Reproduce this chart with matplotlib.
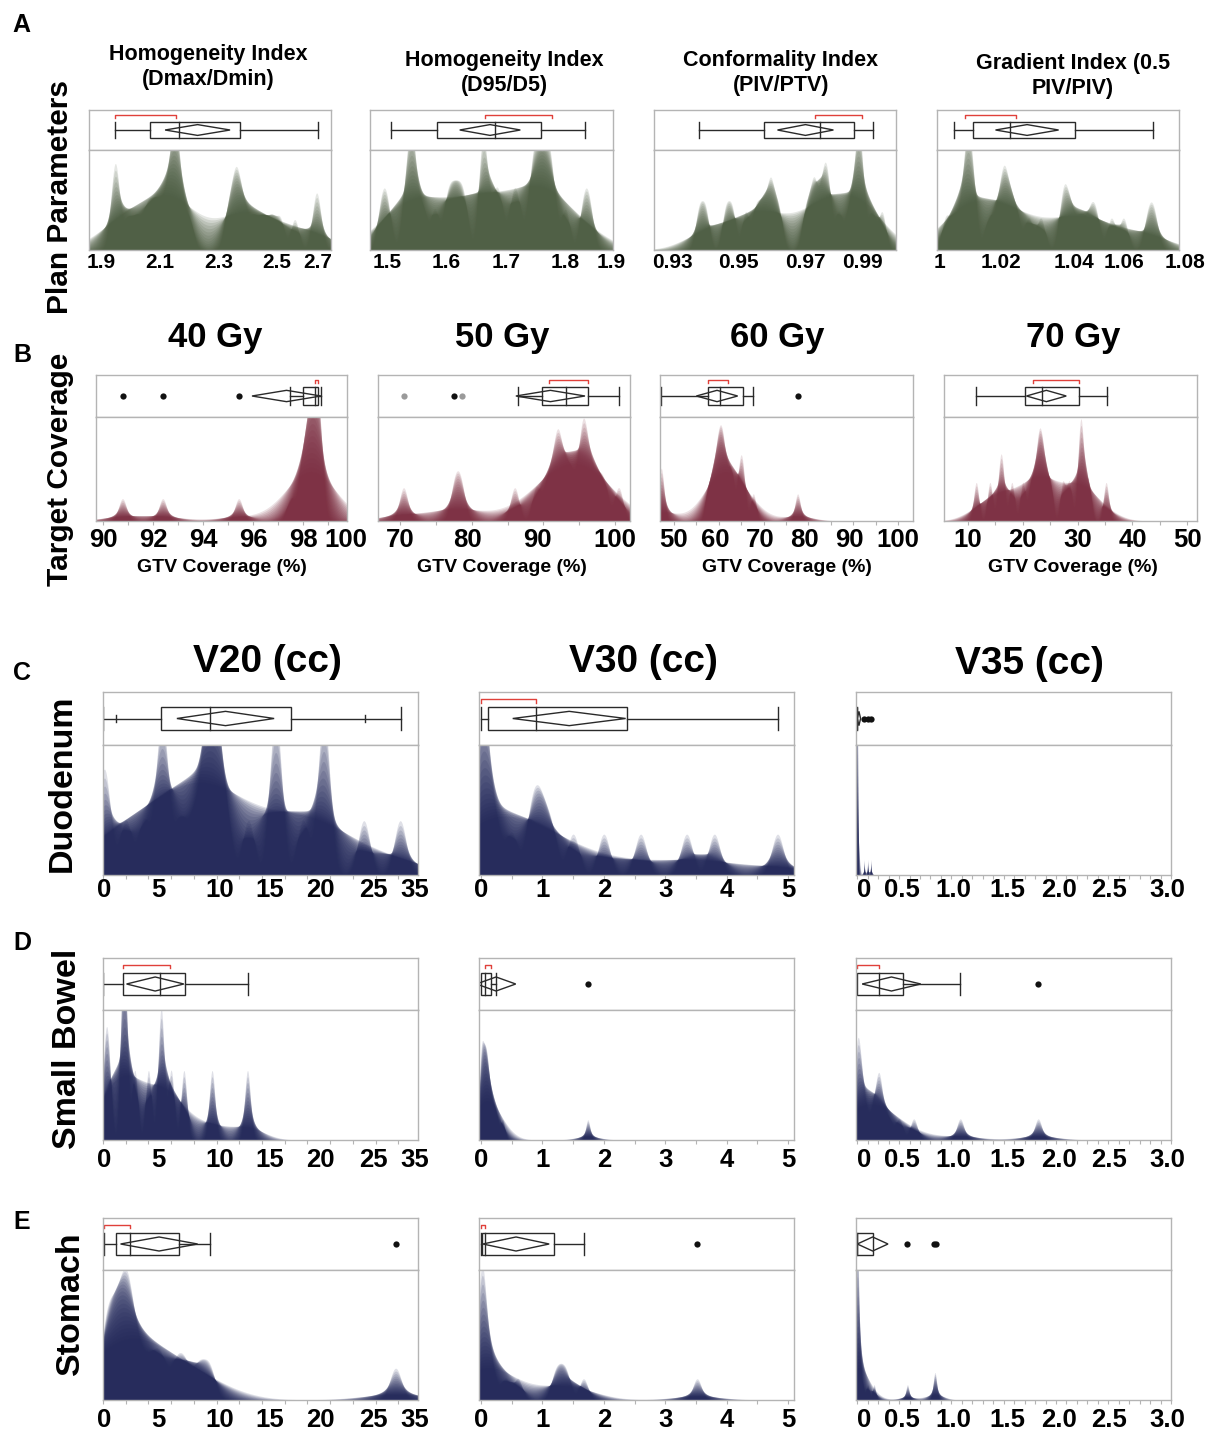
import numpy as np
import matplotlib
matplotlib.use("Agg")
import matplotlib.pyplot as plt
from matplotlib.patches import Rectangle, Polygon
from matplotlib.transforms import blended_transform_factory
from matplotlib.ticker import MultipleLocator

plt.rcParams['font.family'] = ['Liberation Sans', 'DejaVu Sans']
plt.rcParams['font.weight'] = 'bold'

# ---------------- DATA ----------------
# Panel A : plan parameters
A1_obs = [1.94, 1.95, 1.95, 1.99, 2.02, 2.05, 2.07, 2.09, 2.11, 2.13, 2.14, 2.15, 2.15, 2.16, 2.17, 2.20,
          2.33, 2.35, 2.36, 2.37, 2.39, 2.42, 2.45, 2.48, 2.51, 2.56, 2.63, 2.64]
A1_box = [1.946, 2.066, 2.165, 2.373, 2.640]
A1_mean = [2.228, 0.111]
A1_half = [1.946, 2.155]
A1_labels = ['1.9', '2.1', '2.3', '2.5', '2.7']
A1_label_at = [1.9, 2.1, 2.3, 2.5, 2.64]
A1_xlim = [1.857, 2.684]

A2_obs = [1.49, 1.50, 1.53, 1.54, 1.54, 1.545, 1.56, 1.58, 1.60, 1.61, 1.62, 1.63, 1.66, 1.66, 1.665,
          1.68, 1.69, 1.71, 1.72, 1.74, 1.75, 1.75, 1.76, 1.77, 1.77, 1.78, 1.80, 1.83, 1.84]
A2_box = [1.507, 1.584, 1.682, 1.759, 1.833]
A2_mean = [1.673, 0.051]
A2_half = [1.665, 1.777]
A2_labels = ['1.5', '1.6', '1.7', '1.8', '1.9']
A2_label_at = [1.5, 1.6, 1.7, 1.8, 1.877]
A2_xlim = [1.471, 1.880]

A3_obs = [0.938, 0.940, 0.946, 0.948, 0.952, 0.955, 0.957, 0.959, 0.960, 0.962, 0.970, 0.972, 0.973,
          0.975, 0.976, 0.977, 0.980, 0.983, 0.985, 0.986, 0.986, 0.987, 0.990, 0.993]
A3_box = [0.938, 0.9575, 0.9745, 0.9845, 0.9902]
A3_mean = [0.970, 0.0084]
A3_half = [0.9730, 0.9869]
A3_labels = ['0.93', '0.95', '0.97', '0.99']
A3_label_at = [0.93, 0.95, 0.97, 0.9872]
A3_xlim = [0.9245, 0.9972]

A4_obs = [1.002, 1.005, 1.008, 1.009, 1.009, 1.010, 1.011, 1.016, 1.019, 1.021, 1.021, 1.023, 1.025,
          1.029, 1.033, 1.040, 1.041, 1.043, 1.046, 1.049, 1.051, 1.056, 1.060, 1.068, 1.070]
A4_box = [1.0046, 1.0108, 1.0230, 1.0441, 1.0695]
A4_mean = [1.0285, 0.0103]
A4_half = [1.0082, 1.0248]
A4_labels = ['1', '1.02', '1.04', '1.06', '1.08']
A4_label_at = [1.0, 1.02, 1.0438, 1.06, 1.08]
A4_xlim = [0.9991, 1.0781]

A_titles = ['Homogeneity Index\n(Dmax/Dmin)', 'Homogeneity Index\n(D95/D5)',
            'Conformality Index\n(PIV/PTV)', 'Gradient Index (0.5\nPIV/PIV)']

# Panel B : target coverage (GTV coverage %)
B1_obs = [90.78, 92.39, 95.43, 97.5, 97.9, 98.0, 98.1, 98.2, 98.3, 98.35, 98.4, 98.45, 98.5, 98.55,
          98.6, 98.65, 98.7]
B1_box = [97.5, 98.02, 98.48, 98.61, 98.72]
B1_mean = [97.34, 1.38]
B1_half = [98.48, 98.61]
B1_out = [90.78, 92.39, 95.43]
B1_out_gray = []
B1_labels = ['90', '92', '94', '96', '98', '100']
B1_label_at = [90, 92, 94, 96, 98.0, 99.7]
B1_xlim = [89.72, 99.76]

B2_obs = [70.5, 77.6, 78.5, 86.0, 89.0, 90.5, 91.5, 92.0, 92.3, 93.2, 94.0, 95.2, 95.5,
          95.8, 96.5, 97.5, 98.5, 100.5]
B2_box = [86.5, 89.85, 93.2, 96.2, 100.5]
B2_mean = [90.98, 4.82]
B2_half = [90.84, 96.18]
B2_out = [77.6]
B2_out_gray = [70.56, 78.7]
B2_labels = ['70', '80', '90', '100']
B2_label_at = [70, 79.35, 89.2, 100]
B2_xlim = [66.93, 102.08]

B3_obs = [47.0, 47.3, 57.5, 58.5, 59.3, 59.8, 60.2, 60.6, 61.0, 61.5, 62.5, 63.0, 64.5, 65.0, 65.5,
          67.7, 77.6]
B3_box = [47.0, 57.7, 60.2, 65.3, 67.7]
B3_mean = [59.6, 4.61]
B3_half = [57.7, 62.1]
B3_out = [77.7]
B3_out_gray = []
B3_labels = ['50', '60', '70', '80', '90', '100']
B3_label_at = [50, 59.15, 69.2, 79.2, 89.06, 100]
B3_xlim = [46.875, 103.35]

B4_obs = [11.5, 14.0, 15.8, 16.3, 18.0, 20.0, 21.5, 22.5, 23.0, 23.4, 24.0, 25.0, 27.3, 28.5, 30.3,
          30.6, 30.9, 32.0, 35.2]
B4_box = [11.53, 20.35, 23.5, 30.2, 35.3]
B4_mean = [24.3, 3.63]
B4_half = [21.9, 30.2]
B4_out = []
B4_out_gray = []
B4_labels = ['10', '20', '30', '40', '50']
B4_label_at = [10, 20, 30, 40, 50]
B4_xlim = [5.62, 51.79]

B_titles = ['40 Gy', '50 Gy', '60 Gy', '70 Gy']
B_xlabel = 'GTV Coverage (%)'

# Panels C-E : organ dose volumes (cc)
C_titles = ['V20 (cc)', 'V30 (cc)', 'V35 (cc)']
V20_labels = ['0', '5', '10', '15', '20', '25', '35']
V20_label_at = [0.1, 6.08, 12.8, 18.4, 23.9, 29.8, 34.35]
V20_xlim = [0, 34.66]
V30_labels = ['0', '1', '2', '3', '4', '5']
V30_label_at = [0, 1, 2, 3, 4, 5]
V30_xlim = [-0.033, 5.098]
V35_labels = ['0', '0.5', '1.0', '1.5', '2.0', '2.5', '3.0']
V35_label_at = [0.066, 0.43, 0.92, 1.44, 1.93, 2.41, 2.96]
V35_xlim = [-0.012, 3]

C1_obs = [0.0, 0.3, 2.5, 4.5, 6.3, 6.5, 6.7, 8.5, 10.0, 11.2, 11.6, 11.9, 12.2, 12.5, 13.5, 16.0,
          18.9, 19.0, 19.1, 22.0, 24.2, 24.3, 24.4, 28.7, 32.7]
C1_box = [0.0, 6.43, 11.74, 20.65, 32.74]
C1_qticks = [1.43, 28.78]
C1_mean = [13.48, 5.35]
C1_half = None
C1_out = []

C2_obs = [0.0, 0.0, 0.0, 0.02, 0.1, 0.25, 0.5, 0.8, 0.9, 1.0, 1.15, 1.5, 2.0, 2.6, 3.35, 3.8, 4.83]
C2_box = [0.0, 0.116, 0.90, 2.38, 4.83]
C2_mean = [1.436, 0.92]
C2_half = [0.0, 0.90]
C2_out = []

C3_obs = [0.0] * 16 + [0.066, 0.10, 0.13]
C3_box = [0.0, 0.0, 0.0, 0.0, 0.0]
C3_mean = [0.016, 0.016]
C3_half = None
C3_out = [0.066, 0.10, 0.13]

D1_obs = [0.2, 0.6, 2.2, 2.3, 2.4, 3.5, 5.0, 6.3, 6.5, 7.5, 8.9, 12.0, 15.9]
D1_box = [0.0, 2.17, 6.30, 9.0, 15.96]
D1_mean = [5.74, 3.15]
D1_half = [2.17, 7.39]
D1_out = []

D2_obs = [0.0, 0.0, 0.0, 0.02, 0.05, 0.07, 0.08, 0.1, 0.12, 0.15, 0.2, 0.25, 0.35, 1.74]
D2_box = [0.0, 0.0, 0.07, 0.168, 0.245]
D2_mean = [0.245, 0.32]
D2_half = [0.07, 0.16]
D2_out = [1.74]

D3_obs = [0.0, 0.0, 0.0, 0.01, 0.03, 0.08, 0.15, 0.2, 0.21, 0.22, 0.3, 0.4, 0.54, 0.985, 1.73]
D3_box = [0.0, 0.0, 0.21, 0.437, 0.985]
D3_mean = [0.327, 0.28]
D3_half = [0.0, 0.21]
D3_out = [1.73]

E1_obs = [0.1, 0.5, 1.0, 1.5, 2.0, 2.4, 2.6, 3.0, 3.5, 4.5, 5.6, 6.5, 8.0, 9.0, 10.5, 11.7, 32.2]
E1_box = [0.09, 1.39, 2.96, 8.39, 11.74]
E1_mean = [6.17, 4.24]
E1_half = [0.09, 2.96]
E1_out = [32.2]

E2_obs = [0.0, 0.0, 0.0, 0.0, 0.02, 0.05, 0.1, 0.2, 0.4, 0.6, 1.2, 1.3, 1.4, 1.67, 3.52]
E2_box = [0.0, 0.01, 0.06, 1.19, 1.67]
E2_mean = [0.57, 0.54]
E2_half = [0.0, 0.06]
E2_out = [3.52]

E3_obs = [0.0] * 10 + [0.02, 0.05, 0.1, 0.16, 0.48, 0.736, 0.75]
E3_box = [0.0, 0.0, 0.0, 0.15, 0.15]
E3_mean = [0.147, 0.147]
E3_half = None
E3_out = [0.478, 0.736, 0.75]

row_labels = ['Plan Parameters', 'Target Coverage', 'Duodenum', 'Small Bowel', 'Stomach']
panel_letters = ['A', 'B', 'C', 'D', 'E']

# ---------------- STYLE / LAYOUT ----------------
W, H = 1205, 1433
fig = plt.figure(figsize=(W / 100, H / 100), dpi=100)

GREEN = '#4b5b40'
MAROON = '#7b2c3f'
NAVY = '#1f2557'
FRAME = '#b4b4b4'
LINE = '#2a2a2a'
RED = '#e0403a'


def fy(y):
    return 1 - y / H


def fx(x):
    return x / W


def add_ax(x0, x1, y0, y1):
    ax = fig.add_axes([x0 / W, 1 - y1 / H, (x1 - x0) / W, (y1 - y0) / H])
    for s in ax.spines.values():
        s.set_color(FRAME)
        s.set_linewidth(1.0)
    ax.set_yticks([])
    ax.set_xticks([])
    return ax


def shadowgram(ax, obs, xlim, color, k):
    """Overlay of density estimates with a range of bandwidths (shadowgram)."""
    obs = np.asarray(obs, float)
    span = obs.max() - obs.min()
    xs = np.linspace(xlim[0], xlim[1], 1500)
    bws = np.geomspace(0.02, 0.12, 20) * span
    layers = []
    for bw in bws:
        z = (xs[:, None] - obs[None, :]) / bw
        d = np.exp(-0.5 * z * z).sum(1) / (len(obs) * bw * np.sqrt(2 * np.pi))
        layers.append(d)
    for d in layers:
        ax.fill_between(xs, 0, d, color=color, alpha=0.14, lw=0)
    ax.set_ylim(0, layers[-1].max() * k)
    ax.set_xlim(xlim)


def boxstrip(ax, box, mean, half, xlim, out=(), out_gray=(), qticks=()):
    ax.set_xlim(xlim)
    ax.set_ylim(0, 1)
    wlo, q1, med, q3, whi = box
    c, bh, dh = 0.5, 0.21, 0.135
    ax.add_patch(Rectangle((q1, c - bh), q3 - q1, 2 * bh, fill=False, ec=LINE, lw=1.0))
    ax.plot([med, med], [c - bh, c + bh], color=LINE, lw=1.0)
    ax.plot([wlo, q1], [c, c], color=LINE, lw=1.0)
    ax.plot([q3, whi], [c, c], color=LINE, lw=1.0)
    if whi > q3:
        ax.plot([whi, whi], [c - bh, c + bh], color=LINE, lw=1.0)
    if wlo < q1:
        ax.plot([wlo, wlo], [c - bh, c + bh], color=LINE, lw=1.0)
    for q in qticks:
        ax.plot([q, q], [c - 0.07, c + 0.07], color=LINE, lw=1.0)
    m, hw = mean
    ax.add_patch(Polygon([(m - hw, c), (m, c + dh), (m + hw, c), (m, c - dh)], closed=True,
                         fill=False, ec=LINE, lw=1.0))
    if half is not None:
        ax.plot([half[0], half[0], half[1], half[1]], [0.80, 0.87, 0.87, 0.80], color=RED, lw=1.0)
    if len(out):
        ax.plot(out, [c] * len(out), 'o', color='#111111', ms=4.5, mec='none')
    if len(out_gray):
        ax.plot(out_gray, [c] * len(out_gray), 'o', color='#9a9a9a', ms=4.5, mec='none')


def ticklabels(ax, labels, at, ypx, size):
    tr = blended_transform_factory(ax.transData, fig.transFigure)
    for s, x in zip(labels, at):
        ax.text(x, fy(ypx), s, transform=tr, ha='center', va='center', fontsize=size,
                fontweight='bold', clip_on=False)


def minor(ax, step):
    if step:
        ax.xaxis.set_minor_locator(MultipleLocator(step))
        ax.tick_params(axis='x', which='minor', length=3, color=FRAME, width=0.8, direction='out')


def panel(cols, yb, yd, obs, box, mean, half, xlim, color, k, labels, at, ytick, tsize,
          out=(), out_gray=(), qticks=(), step=None):
    x0, x1 = cols
    axb = add_ax(x0, x1, yb[0], yb[1])
    boxstrip(axb, box, mean, half, xlim, out, out_gray, qticks)
    axd = add_ax(x0, x1, yd[0], yd[1])
    shadowgram(axd, obs, xlim, color, k)
    minor(axd, step)
    ticklabels(axd, labels, at, ytick, tsize)
    return axd


# ---- Row A ----
A_cols = [(89, 331), (370, 613), (654, 896), (937, 1179)]
A_yb, A_yd = (110, 150), (150, 250)
panel(A_cols[0], A_yb, A_yd, A1_obs, A1_box, A1_mean, A1_half, A1_xlim, GREEN, 1.8, A1_labels, A1_label_at, 263, 15)
panel(A_cols[1], A_yb, A_yd, A2_obs, A2_box, A2_mean, A2_half, A2_xlim, GREEN, 1.55, A2_labels, A2_label_at, 263, 15)
panel(A_cols[2], A_yb, A_yd, A3_obs, A3_box, A3_mean, A3_half, A3_xlim, GREEN, 1.8, A3_labels, A3_label_at, 263, 15)
panel(A_cols[3], A_yb, A_yd, A4_obs, A4_box, A4_mean, A4_half, A4_xlim, GREEN, 2.0, A4_labels, A4_label_at, 263, 15)
A_title_pos = [(208, 67), (504, 73), (781, 73), (1073, 76)]
for t, (x, y) in zip(A_titles, A_title_pos):
    fig.text(fx(x), fy(y), t, ha='center', va='center', fontsize=15.5, fontweight='bold', linespacing=1.2)

# ---- Row B ----
B_cols = [(96, 347), (378, 630), (660, 913), (944, 1197)]
B_yb, B_yd = (375, 417), (417, 521)
panel(B_cols[0], B_yb, B_yd, B1_obs, B1_box, B1_mean, B1_half, B1_xlim, MAROON, 2.1, B1_labels, B1_label_at, 540, 18.5,
      out=B1_out, out_gray=B1_out_gray, step=1)
panel(B_cols[1], B_yb, B_yd, B2_obs, B2_box, B2_mean, B2_half, B2_xlim, MAROON, 1.8, B2_labels, B2_label_at, 540, 18.5,
      out=B2_out, out_gray=B2_out_gray, step=5)
panel(B_cols[2], B_yb, B_yd, B3_obs, B3_box, B3_mean, B3_half, B3_xlim, MAROON, 2.1, B3_labels, B3_label_at, 540, 18.5,
      out=B3_out, out_gray=B3_out_gray, step=5)
panel(B_cols[3], B_yb, B_yd, B4_obs, B4_box, B4_mean, B4_half, B4_xlim, MAROON, 2.3, B4_labels, B4_label_at, 540, 18.5,
      out=B4_out, out_gray=B4_out_gray, step=5)
for t, x in zip(B_titles, [215, 502, 777, 1073]):
    fig.text(fx(x), fy(337), t, ha='center', va='center', fontsize=25, fontweight='bold')
for x in [222, 502, 787, 1073]:
    fig.text(fx(x), fy(568), B_xlabel, ha='center', va='center', fontsize=14, fontweight='bold')

# ---- Rows C-E ----
CE_cols = [(103, 418), (479, 794), (856, 1171)]
C_yb, C_yd = (692, 745), (745, 875)
D_yb, D_yd = (958, 1010), (1010, 1140)
E_yb, E_yd = (1218, 1270), (1270, 1400)

panel(CE_cols[0], C_yb, C_yd, C1_obs, C1_box, C1_mean, C1_half, V20_xlim, NAVY, 1.4, V20_labels, V20_label_at, 890, 18.5,
      out=C1_out, qticks=C1_qticks, step=2.5)
panel(CE_cols[1], C_yb, C_yd, C2_obs, C2_box, C2_mean, C2_half, V30_xlim, NAVY, 2.2, V30_labels, V30_label_at, 890, 18.5,
      out=C2_out, step=0.5)
panel(CE_cols[2], C_yb, C_yd, C3_obs, C3_box, C3_mean, C3_half, V35_xlim, NAVY, 3.0, V35_labels, V35_label_at, 890, 18.5,
      out=C3_out, step=0.1)

panel(CE_cols[0], D_yb, D_yd, D1_obs, D1_box, D1_mean, D1_half, V20_xlim, NAVY, 2.0, V20_labels, V20_label_at, 1160, 18.5,
      out=D1_out, step=2.5)
panel(CE_cols[1], D_yb, D_yd, D2_obs, D2_box, D2_mean, D2_half, V30_xlim, NAVY, 3.3, V30_labels, V30_label_at, 1160, 18.5,
      out=D2_out, step=0.5)
panel(CE_cols[2], D_yb, D_yd, D3_obs, D3_box, D3_mean, D3_half, V35_xlim, NAVY, 3.6, V35_labels, V35_label_at, 1160, 18.5,
      out=D3_out, step=0.1)

panel(CE_cols[0], E_yb, E_yd, E1_obs, E1_box, E1_mean, E1_half, V20_xlim, NAVY, 2.1, V20_labels, V20_label_at, 1420, 18.5,
      out=E1_out, step=2.5)
panel(CE_cols[1], E_yb, E_yd, E2_obs, E2_box, E2_mean, E2_half, V30_xlim, NAVY, 4.0, V30_labels, V30_label_at, 1420, 18.5,
      out=E2_out, step=0.5)
panel(CE_cols[2], E_yb, E_yd, E3_obs, E3_box, E3_mean, E3_half, V35_xlim, NAVY, 4.0, V35_labels, V35_label_at, 1420, 18.5,
      out=E3_out, step=0.1)

for t, (x, y) in zip(C_titles, [(267, 662), (643, 662), (1029, 664)]):
    fig.text(fx(x), fy(y), t, ha='center', va='center', fontsize=28, fontweight='bold')

# ---- row labels and panel letters ----
row_pos = [(60, 197, 21.5), (60, 469, 21.5), (62, 783, 24.5), (68, 1049, 24.5), (70, 1303, 24.5)]
for t, (x, y, s) in zip(row_labels, row_pos):
    fig.text(fx(x), fy(y), t, ha='center', va='center', rotation=90, fontsize=s, fontweight='bold')
for t, (x, y) in zip(panel_letters, [(21, 25), (22, 355), (22, 673), (22, 943), (22, 1222)]):
    fig.text(fx(x), fy(y), t, ha='center', va='center', fontsize=18, fontweight='bold')

fig.savefig('out.png', dpi=100)
